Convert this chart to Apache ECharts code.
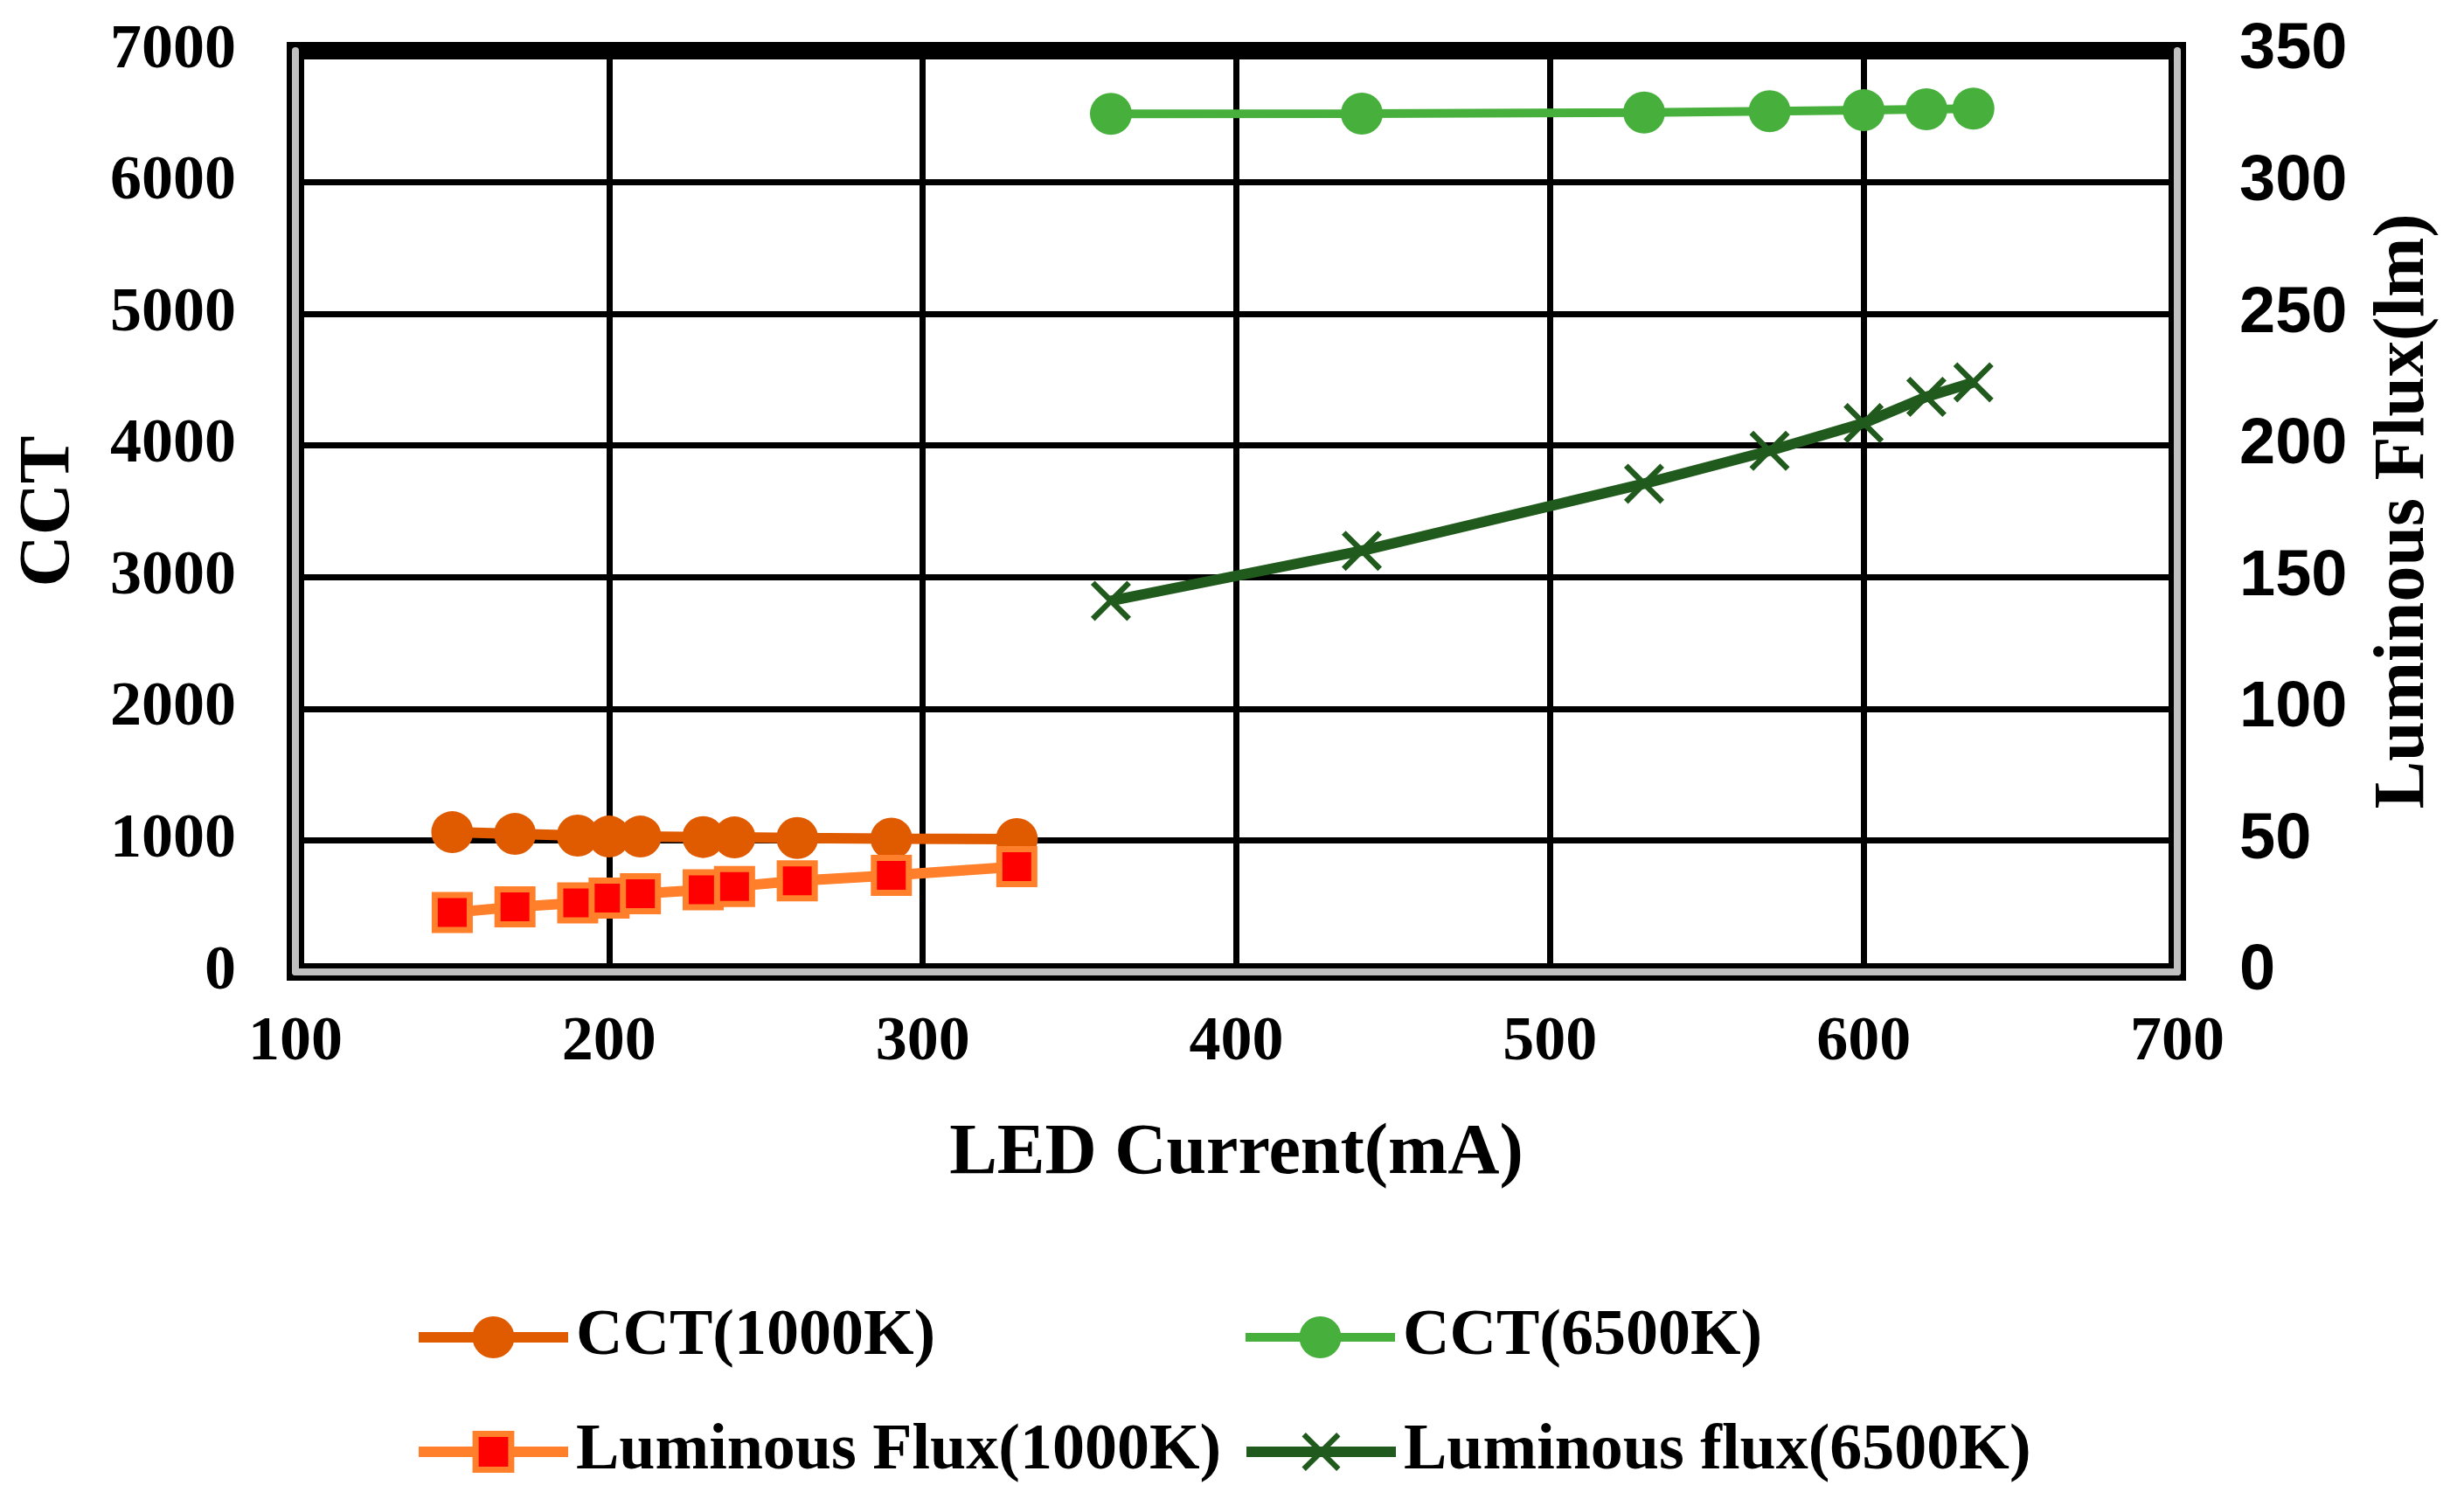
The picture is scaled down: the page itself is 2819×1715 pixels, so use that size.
<!DOCTYPE html>
<html>
<head>
<meta charset="utf-8">
<script src="https://cdn.jsdelivr.net/npm/echarts@6/dist/echarts.min.js"></script>
<style>
html,body{margin:0;padding:0;background:#fff;}
#chart{width:2819px;height:1715px;}
</style>
</head>
<body>
<div id="chart"></div>
<script>
// ---- data ----
const current1000 = [150, 170, 190, 200, 210, 230, 240, 260, 290, 330];
const cct1000 = [1062, 1049, 1036, 1029, 1029, 1025, 1022, 1018, 1013, 1010];
const flux1000 = [22.6, 24.7, 26.2, 28.1, 29.7, 31.2, 32.5, 34.6, 36.7, 40.0];

const current6500 = [360, 440, 530, 570, 600, 620, 635];
const cct6500 = [6520, 6522, 6530, 6540, 6548, 6555, 6560];
const flux6500 = [141, 160, 185.5, 198, 208.5, 218.5, 224];

const xTicks = [100, 200, 300, 400, 500, 600, 700];
const cctTicks = [0, 1000, 2000, 3000, 4000, 5000, 6000, 7000];
const fluxTicks = [0, 50, 100, 150, 200, 250, 300, 350];

const seriesNames = ['CCT(1000K)', 'CCT(6500K)', 'Luminous Flux(1000K)', 'Luminous flux(6500K)'];

function pairs(xs, ys) { return xs.map((x, i) => [x, ys[i]]); }

const serif = '"Liberation Serif", "Times New Roman", serif';
const narrow = '"Liberation Sans Narrow", "Liberation Sans", Arial, sans-serif';
const crossPath = 'path://M0,1 L1,0 L5,4 L9,0 L10,1 L6,5 L10,9 L9,10 L5,6 L1,10 L0,9 L4,5 Z';

const chart = echarts.init(document.getElementById('chart'));

function legendAt(name, left, top, h, extra) {
  return Object.assign({
    data: [name],
    left: left,
    top: top,
    padding: 0,
    orient: 'horizontal',
    itemWidth: 171,
    itemHeight: h,
    itemGap: 0,
    selectedMode: false,
    lineStyle: { width: 12 },
    textStyle: { fontFamily: serif, fontWeight: 'bold', fontSize: 74, color: '#000', padding: [0, 0, 0, 4] }
  }, extra || {});
}

const option = {
  animation: false,
  backgroundColor: '#fff',
  grid: {
    left: 338, right: 328, top: 58, bottom: 603,
    show: true, borderColor: '#000', borderWidth: 20, backgroundColor: 'transparent',
    containLabel: false, outerBoundsMode: 'none'
  },
  legend: [
    legendAt(seriesNames[0], 473, 1493, 60),
    legendAt(seriesNames[1], 1420, 1493, 60, { lineStyle: { width: 10 } }),
    legendAt(seriesNames[2], 473, 1624, 51, { itemStyle: { borderWidth: 7 } }),
    legendAt(seriesNames[3], 1420, 1624, 55)
  ],
  xAxis: {
    type: 'value', min: xTicks[0], max: xTicks[xTicks.length - 1], interval: 100,
    name: 'LED Current(mA)', nameLocation: 'middle', nameGap: 168,
    nameTextStyle: { fontFamily: serif, fontWeight: 'bold', fontSize: 82, color: '#000' },
    axisLine: { show: true, onZero: false, lineStyle: { color: '#c0c0c0', width: 8 } },
    axisTick: { show: false },
    axisLabel: { margin: 45, fontFamily: serif, fontWeight: 'bold', fontSize: 72, color: '#000',
      formatter: v => String(v) },
    splitLine: { show: true, showMinLine: false, showMaxLine: false, lineStyle: { color: '#000', width: 7 } }
  },
  yAxis: [
    {
      type: 'value', position: 'left', min: cctTicks[0], max: cctTicks[cctTicks.length - 1], interval: 1000,
      name: 'CCT', nameLocation: 'middle', nameRotate: 90, nameGap: 240,
      nameTextStyle: { fontFamily: serif, fontWeight: 'bold', fontSize: 82, color: '#000' },
      axisLine: { show: true, lineStyle: { color: '#c0c0c0', width: 8 } },
      axisTick: { show: false },
      axisLabel: { margin: 68, fontFamily: serif, fontWeight: 'bold', fontSize: 72, color: '#000',
        formatter: v => String(v) },
      splitLine: { show: true, showMinLine: false, showMaxLine: false, lineStyle: { color: '#000', width: 7 } }
    },
    {
      type: 'value', position: 'right', min: fluxTicks[0], max: fluxTicks[fluxTicks.length - 1], interval: 50,
      name: 'Luminous Flux(lm)', nameLocation: 'middle', nameRotate: 90, nameGap: 219,
      nameTextStyle: { fontFamily: serif, fontWeight: 'bold', fontSize: 82, color: '#000' },
      axisLine: { show: true, lineStyle: { color: '#c0c0c0', width: 8 } },
      axisTick: { show: false },
      axisLabel: { margin: 71, fontFamily: narrow, fontWeight: 'bold', fontSize: 74, color: '#000',
        formatter: v => String(v) },
      splitLine: { show: false }
    }
  ],
  series: [
    {
      name: seriesNames[0], type: 'line', yAxisIndex: 0,
      data: pairs(current1000, cct1000),
      symbol: 'circle', symbolSize: 48, showAllSymbol: true,
      lineStyle: { color: '#E05A00', width: 12 },
      itemStyle: { color: '#E05A00' }
    },
    {
      name: seriesNames[1], type: 'line', yAxisIndex: 0,
      data: pairs(current6500, cct6500),
      symbol: 'circle', symbolSize: 48, showAllSymbol: true,
      lineStyle: { color: '#47B03C', width: 10 },
      itemStyle: { color: '#47B03C' }
    },
    {
      name: seriesNames[2], type: 'line', yAxisIndex: 1,
      data: pairs(current1000, flux1000),
      symbol: 'rect', symbolSize: 40, showAllSymbol: true,
      lineStyle: { color: '#FF7F2A', width: 12 },
      itemStyle: { color: '#FF0000', borderColor: '#FF7F2A', borderWidth: 7 }
    },
    {
      name: seriesNames[3], type: 'line', yAxisIndex: 1,
      data: pairs(current6500, flux6500),
      symbol: crossPath, symbolSize: 46, showAllSymbol: true,
      lineStyle: { color: '#205A1C', width: 12 },
      itemStyle: { color: '#205A1C' }
    }
  ]
};

chart.setOption(option);
</script>
</body>
</html>
